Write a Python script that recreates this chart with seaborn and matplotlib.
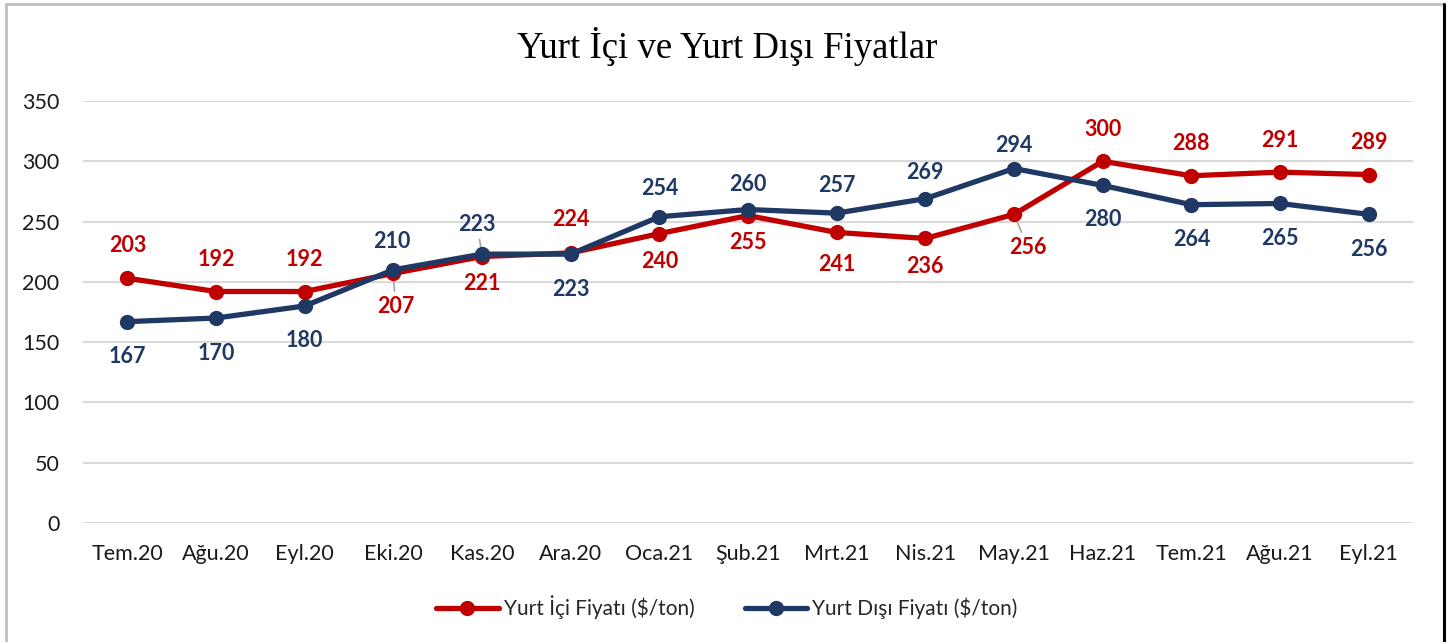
import pandas as pd
import numpy as np
import matplotlib
matplotlib.use("Agg")
import matplotlib.pyplot as plt
from matplotlib.lines import Line2D
import seaborn as sns

sns.set_theme(style="white")
plt.rcParams['font.family'] = ['Lato', 'DejaVu Sans']

# Data
months = ["Tem.20", "Ağu.20", "Eyl.20", "Eki.20", "Kas.20", "Ara.20", "Oca.21",
          "Şub.21", "Mrt.21", "Nis.21", "May.21", "Haz.21", "Tem.21", "Ağu.21", "Eyl.21"]
yurt_ici = [203, 192, 192, 207, 221, 224, 240, 255, 241, 236, 256, 300, 288, 291, 289]
yurt_disi = [167, 170, 180, 210, 223, 223, 254, 260, 257, 269, 294, 280, 264, 265, 256]

s_ici = "Yurt İçi Fiyatı ($/ton)"
s_disi = "Yurt Dışı Fiyatı ($/ton)"

df = pd.DataFrame({
    "ay": months * 2,
    "fiyat": yurt_ici + yurt_disi,
    "seri": [s_ici] * len(months) + [s_disi] * len(months),
})

RED = "#C00000"
NAVY = "#1F3864"
colors = {s_ici: RED, s_disi: NAVY}

# label offsets in pixels (dx, dy), positive dy = above the point
off_ici = [(0, 33), (0, 32), (0, 32), (2, -33), (0, -27), (0, 33), (0, -28), (0, -27),
           (0, -32), (0, -28), (14, -33), (0, 32), (0, 32), (0, 32), (0, 32)]
off_disi = [(0, -35), (0, -35), (0, -35), (-2, 28), (-5, 30), (0, -35), (0, 28), (0, 25),
            (0, 28), (0, 26), (0, 23), (0, -34), (0, -35), (0, -35), (0, -35)]
leaders_ici = {3, 10}
leaders_disi = {4}

fig = plt.figure(figsize=(14.54, 6.42), dpi=100)
ax = fig.add_axes([83 / 1454, 1 - 523 / 642, (1413 - 83) / 1454, (523 - 101) / 642])

sns.lineplot(data=df, x="ay", y="fiyat", hue="seri", palette=colors, marker="o",
             markersize=11, markeredgewidth=0, linewidth=3.8, sort=False, ax=ax)

ax.set_xlim(-0.5, len(months) - 0.5)
ax.set_ylim(0, 350)
ax.set_yticks(np.arange(0, 351, 50))
ax.yaxis.grid(True, color="#D9D9D9", linewidth=1.5)
ax.set_axisbelow(True)
for sp in ax.spines.values():
    sp.set_visible(False)
ax.set_xlabel("")
ax.set_ylabel("")
ax.tick_params(axis="x", length=0, pad=15, labelsize=15.5, colors="#1A1A1A")
ax.tick_params(axis="y", length=0, pad=17, labelsize=15.5, colors="#1A1A1A")

px = 0.72
for vals, offs, col, leaders in [(yurt_ici, off_ici, RED, leaders_ici),
                                 (yurt_disi, off_disi, NAVY, leaders_disi)]:
    for i, (v, (dx, dy)) in enumerate(zip(vals, offs)):
        kw = {}
        if i in leaders:
            kw = dict(arrowprops=dict(arrowstyle="-", color="#A6A6A6", lw=1.2,
                                      shrinkA=1, shrinkB=0))
        ax.annotate(str(v), xy=(i, v), xytext=(dx * px, dy * px), textcoords="offset points",
                    ha="center", va="center", fontsize=15.5, fontweight="bold", color=col,
                    zorder=1, **kw)

leg = ax.legend(loc="center", bbox_to_anchor=(727 / 1454, 1 - 607 / 642),
                bbox_transform=fig.transFigure, ncol=2, frameon=False, fontsize=15,
                handlelength=3.0, handletextpad=0.25, columnspacing=2.4)
for h in leg.legend_handles:
    h.set_linewidth(3.8)
    h.set_markersize(11)

fig.text(727 / 1454, 1 - 47 / 642, "Yurt İçi ve Yurt Dışı Fiyatlar", ha="center", va="center",
         fontsize=26.5, family="Liberation Serif", color="#000000")

# outer frame
fig.add_artist(Line2D([6 / 1454, 1444 / 1454], [1 - 4 / 642, 1 - 4 / 642],
                      transform=fig.transFigure, color="#BFBFBF", lw=2))
fig.add_artist(Line2D([6 / 1454, 6 / 1454], [0, 1 - 4 / 642],
                      transform=fig.transFigure, color="#BFBFBF", lw=2))
fig.add_artist(Line2D([1444 / 1454, 1444 / 1454], [0, 1 - 4 / 642],
                      transform=fig.transFigure, color="#000000", lw=2.2))

fig.savefig("out.png", dpi=100)
